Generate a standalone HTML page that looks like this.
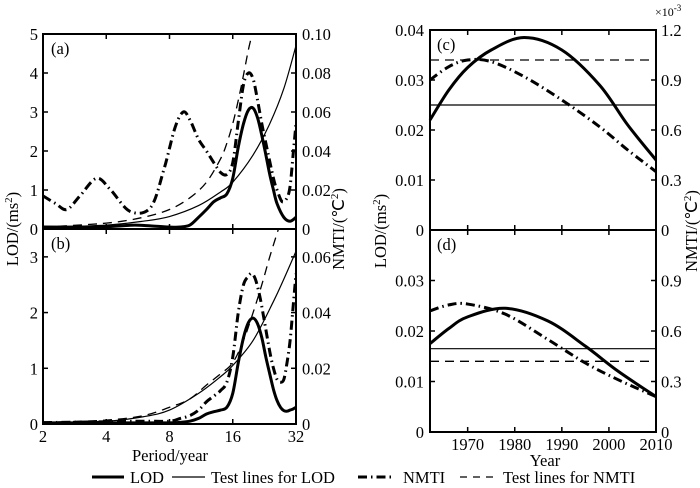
<!DOCTYPE html>
<html><head><meta charset="utf-8">
<style>
html,body{margin:0;padding:0;background:#fff}
svg{display:block;font-family:"Liberation Serif",serif}
</style></head>
<body>
<svg id="chart" width="700" height="488" viewBox="0 0 700 488"></svg>
<script>
// ---- data: panels (a),(b): period (years) ----
const aLodP=[2,3,4,5,5.5,6.5,8,9,10,11,12,13,14,15,16,17,18,19,20,21,22,23,24,25,26,28,30,32];
const aLodV=[0.05,0.05,0.06,0.09,0.1,0.08,0.05,0.05,0.1,0.3,0.5,0.7,0.8,0.9,1.3,2.1,2.7,3.05,3.1,2.85,2.4,1.9,1.4,1.0,0.65,0.3,0.2,0.3];
const aLodTestP=[2,4,6,8,11,14,16,20,24,28,32];
const aLodTestV=[0.04,0.1,0.2,0.32,0.6,0.95,1.2,1.9,2.7,3.6,4.7];
const aNmtiP=[2,2.3,2.6,3,3.6,4.2,5.2,6.5,7.5,8.5,9.3,10,11,12,13,14,15,16,17,18,19,20,21,22,23,25,26,27.5,29,30,31,32];
const aNmtiV=[0.017,0.013,0.010,0.017,0.026,0.020,0.009,0.011,0.030,0.052,0.060,0.056,0.046,0.040,0.034,0.029,0.028,0.034,0.055,0.074,0.080,0.077,0.066,0.054,0.044,0.026,0.020,0.014,0.016,0.022,0.038,0.054];
const aNmtiTestP=[2,4,6,8,10,12,14,15,16,17,18,19,19.8];
const aNmtiTestV=[0.001,0.003,0.006,0.010,0.016,0.024,0.036,0.044,0.054,0.066,0.079,0.092,0.100];
const bLodP=[2,4,6,8,9,10,11,12,13,14,15,16,17,18,19,20,21,22,23,24,25,26,27,28,29,30,31,32];
const bLodV=[0.02,0.02,0.02,0.02,0.03,0.05,0.1,0.18,0.22,0.25,0.3,0.55,1.1,1.55,1.82,1.9,1.8,1.55,1.2,0.9,0.62,0.42,0.3,0.24,0.23,0.25,0.27,0.3];
const bLodTestP=[2,4,6,8,11,14,16,20,25,28,32];
const bLodTestV=[0.02,0.05,0.13,0.25,0.55,0.85,1.05,1.5,2.2,2.6,3.1];
const bNmtiP=[2,4,6,8,9,10,11,12,13,14,15,16,17,18,19,19.7,20.5,21.5,22.5,24,25,26,27,28,29,30,31,32];
const bNmtiV=[0.0005,0.0008,0.001,0.001,0.002,0.003,0.005,0.008,0.010,0.012,0.015,0.024,0.040,0.050,0.053,0.054,0.052,0.046,0.038,0.026,0.020,0.016,0.015,0.016,0.022,0.030,0.042,0.054];
const bNmtiTestP=[2,4,6,8,10,12,14,16,18,20,22,24,26.4];
const bNmtiTestV=[0.0006,0.0014,0.003,0.006,0.009,0.014,0.018,0.022,0.030,0.040,0.050,0.060,0.070];
// ---- data: panels (c),(d): years ----
const cYears=[1962,1966,1970,1975,1982,1990,1998,2004,2010];
const cLod=[0.022,0.028,0.0325,0.036,0.0385,0.036,0.029,0.021,0.014];
const cNmti=[0.90,0.98,1.02,1.01,0.92,0.78,0.62,0.48,0.35];
const cLodTest=0.025, cNmtiTest=1.02;
const dYears=[1962,1966,1970,1978,1987,1995,2002,2010];
const dLod=[0.0175,0.0205,0.0228,0.0245,0.022,0.017,0.012,0.007];
const dNmti=[0.72,0.755,0.76,0.70,0.55,0.41,0.31,0.21];
const dLodTest=0.0165, dNmtiTest=0.42;
const leftXTicks=[2,4,8,16,32];
const aLodTicks=[0,1,2,3,4,5], aNmtiTicks=["0","0.02","0.04","0.06","0.08","0.10"];
const bLodTicks=[0,1,2,3], bNmtiTicks=["0","0.02","0.04","0.06"];
const cLodTicks=["0","0.01","0.02","0.03","0.04"], cNmtiTicks=["0","0.3","0.6","0.9","1.2"];
const dLodTicks=["0","0.01","0.02","0.03"], dNmtiTicks=["0","0.3","0.6","0.9"];
const yearTicks=[1970,1980,1990,2000,2010];

const FS=16.5;
const svg=document.getElementById('chart');
const NS='http://www.w3.org/2000/svg';
function el(tag,attrs,parent){const e=document.createElementNS(NS,tag);for(const k in attrs)e.setAttribute(k,attrs[k]);(parent||svg).appendChild(e);return e;}
function txt(x,y,s,anchor,size,parent){const t=el('text',{x:x,y:y,'text-anchor':anchor||'middle','font-size':size||FS,fill:'#000'},parent);t.textContent=s;return t;}
function smooth(pts){let d='M'+pts[0][0].toFixed(2)+','+pts[0][1].toFixed(2);
 for(let i=0;i<pts.length-1;i++){const p0=pts[Math.max(0,i-1)],p1=pts[i],p2=pts[i+1],p3=pts[Math.min(pts.length-1,i+2)];
  const c1=[p1[0]+(p2[0]-p0[0])/6,p1[1]+(p2[1]-p0[1])/6],c2=[p2[0]-(p3[0]-p1[0])/6,p2[1]-(p3[1]-p1[1])/6];
  d+=' C'+c1[0].toFixed(2)+','+c1[1].toFixed(2)+' '+c2[0].toFixed(2)+','+c2[1].toFixed(2)+' '+p2[0].toFixed(2)+','+p2[1].toFixed(2);}
 return d;}
const styles={lod:{w:3,dash:null},lodTest:{w:1.2,dash:null},nmti:{w:3,dash:'9,4,1.5,4'},nmtiTest:{w:1.3,dash:'9,6'}};
function series(g,xs,ys,fx,fy,st,name){const pts=xs.map((x,i)=>[fx(x),fy(ys[i])]);
 const a={d:smooth(pts),fill:'none',stroke:'#000','stroke-width':styles[st].w};
 if(styles[st].dash)a['stroke-dasharray']=styles[st].dash;
 const p=el('path',a,g);
 
 }

// left panels
const LX0=43,LX1=296;
const lx=p=>LX0+(Math.log2(p)-1)/4*(LX1-LX0);
function leftPanel(id,top,bot,lodMax,nmtiMax,lodTicks,nmtiTicks,nmtiStep,label,D){
 const g=el('g',{});
 
 
 const clip=el('clipPath',{id:'clip'+id},g);el('rect',{x:LX0,y:top,width:LX1-LX0,height:bot-top},clip);
 const fy=v=>bot-v/lodMax*(bot-top), fn=v=>bot-v/nmtiMax*(bot-top);
 const pg=el('g',{'clip-path':'url(#clip'+id+')'},g);
 series(pg,D[2],D[3],lx,fy,'lodTest','lod-test-line-'+id);
 series(pg,D[6],D[7],lx,fn,'nmtiTest','nmti-test-line-'+id);
 series(pg,D[4],D[5],lx,fn,'nmti','nmti-line-'+id);
 series(pg,D[0],D[1],lx,fy,'lod','lod-line-'+id);
 el('rect',{x:LX0,y:top,width:LX1-LX0,height:bot-top,fill:'none',stroke:'#000','stroke-width':2},g);
 leftXTicks.forEach(t=>{const x=lx(t);el('line',{x1:x,x2:x,y1:bot,y2:bot-5,stroke:'#000','stroke-width':1.5},g);el('line',{x1:x,x2:x,y1:top,y2:top+5,stroke:'#000','stroke-width':1.5},g);});
 lodTicks.forEach(t=>{const y=fy(t);el('line',{x1:LX0,x2:LX0+5,y1:y,y2:y,stroke:'#000','stroke-width':1.5},g);txt(LX0-5,y+6,String(t),'end',FS,g);});
 nmtiTicks.forEach((t,i)=>{const y=fn(i*nmtiStep);el('line',{x1:LX1,x2:LX1-5,y1:y,y2:y,stroke:'#000','stroke-width':1.5},g);txt(LX1+6,y+6,t,'start',FS,g);});
 const lb=txt(LX0+8,top+20,label,'start',FS,g);
 
}
leftPanel('a',34,229,5,0.1,aLodTicks,aNmtiTicks,0.02,'(a)',[aLodP,aLodV,aLodTestP,aLodTestV,aNmtiP,aNmtiV,aNmtiTestP,aNmtiTestV]);
leftPanel('b',229,424,3.5,0.07,bLodTicks,bNmtiTicks,0.02,'(b)',[bLodP,bLodV,bLodTestP,bLodTestV,bNmtiP,bNmtiV,bNmtiTestP,bNmtiTestV]);
leftXTicks.forEach(t=>{const l=txt(lx(t),442,String(t),'middle',FS);});

// right panels
const RX0=430,RX1=656;
const rx=y=>RX0+(y-1962)/(2010-1962)*(RX1-RX0);
function rightPanel(id,top,bot,lodMax,lodTicks,nmtiTicks,years,lod,nmti,lodT,nmtiT,label){
 const g=el('g',{});
 
 
 const fy=v=>bot-v/lodMax*(bot-top), fn=v=>bot-v/(lodMax*30)*(bot-top);
 const h1=el('line',{x1:RX0,x2:RX1,y1:fy(lodT),y2:fy(lodT),stroke:'#000','stroke-width':1.2},g);
 
 const h2=el('line',{x1:RX0,x2:RX1,y1:fn(nmtiT),y2:fn(nmtiT),stroke:'#000','stroke-width':1.3,'stroke-dasharray':'9,6'},g);
 
 series(g,years,nmti,rx,fn,'nmti','nmti-line-'+id);
 series(g,years,lod,rx,fy,'lod','lod-line-'+id);
 el('rect',{x:RX0,y:top,width:RX1-RX0,height:bot-top,fill:'none',stroke:'#000','stroke-width':2},g);
 lodTicks.forEach((t,i)=>{const y=fy(i*0.01);el('line',{x1:RX0,x2:RX0+5,y1:y,y2:y,stroke:'#000','stroke-width':1.5},g);txt(RX0-6,y+6,t,'end',FS,g);});
 nmtiTicks.forEach((t,i)=>{const y=fn(i*0.3);el('line',{x1:RX1,x2:RX1-5,y1:y,y2:y,stroke:'#000','stroke-width':1.5},g);txt(RX1+5,y+6,t,'start',FS,g);});
 yearTicks.forEach(t=>{const x=rx(t);el('line',{x1:x,x2:x,y1:bot,y2:bot-5,stroke:'#000','stroke-width':1.5},g);el('line',{x1:x,x2:x,y1:top,y2:top+5,stroke:'#000','stroke-width':1.5},g);});
 const lb=txt(RX0+7,top+20,label,'start',FS,g);
 
}
rightPanel('c',30,230,0.04,cLodTicks,cNmtiTicks,cYears,cLod,cNmti,cLodTest,cNmtiTest,'(c)');
rightPanel('d',230,432,0.04,dLodTicks,dNmtiTicks,dYears,dLod,dNmti,dLodTest,dNmtiTest,'(d)');
yearTicks.forEach(t=>{const l=txt(rx(t),450,String(t),'middle',FS);});
</script>
<div style="position:absolute;left:0;top:0;width:700px;height:488px;pointer-events:none">
<svg width="700" height="488" style="font-family:'Liberation Serif',serif;font-size:16.5px">
 <text transform="translate(18,229) rotate(-90)" text-anchor="middle">LOD/(ms<tspan baseline-shift="super" font-size="11">2</tspan>)</text>
 <text transform="translate(344,229) rotate(-90)" text-anchor="middle">NMTI/(℃<tspan baseline-shift="super" font-size="11">2</tspan>)</text>
 <text transform="translate(386,231) rotate(-90)" text-anchor="middle">LOD/(ms<tspan baseline-shift="super" font-size="11">2</tspan>)</text>
 <text transform="translate(697,231) rotate(-90)" text-anchor="middle">NMTI/(℃<tspan baseline-shift="super" font-size="11">2</tspan>)</text>
 <text x="655" y="16" font-size="12">×10<tspan baseline-shift="super" font-size="9">-3</tspan></text>
 <text x="170" y="461" text-anchor="middle">Period/year</text>
 <text x="545" y="466" text-anchor="middle">Year</text>
 <g>
  <line x1="92" x2="124" y1="477" y2="477" stroke="#000" stroke-width="3"/>
  <text x="130" y="483">LOD</text>
  <line x1="172" x2="205" y1="477" y2="477" stroke="#000" stroke-width="1.2"/>
  <text x="211" y="483">Test lines for LOD</text>
  <line x1="358" x2="392" y1="477" y2="477" stroke="#000" stroke-width="3" stroke-dasharray="9,4,1.5,4"/>
  <text x="403" y="483">NMTI</text>
  <line x1="460" x2="494" y1="477" y2="477" stroke="#000" stroke-width="1.3" stroke-dasharray="7,6"/>
  <text x="503" y="483">Test lines for NMTI</text>
 </g>
</svg>
</div>
</body></html>
